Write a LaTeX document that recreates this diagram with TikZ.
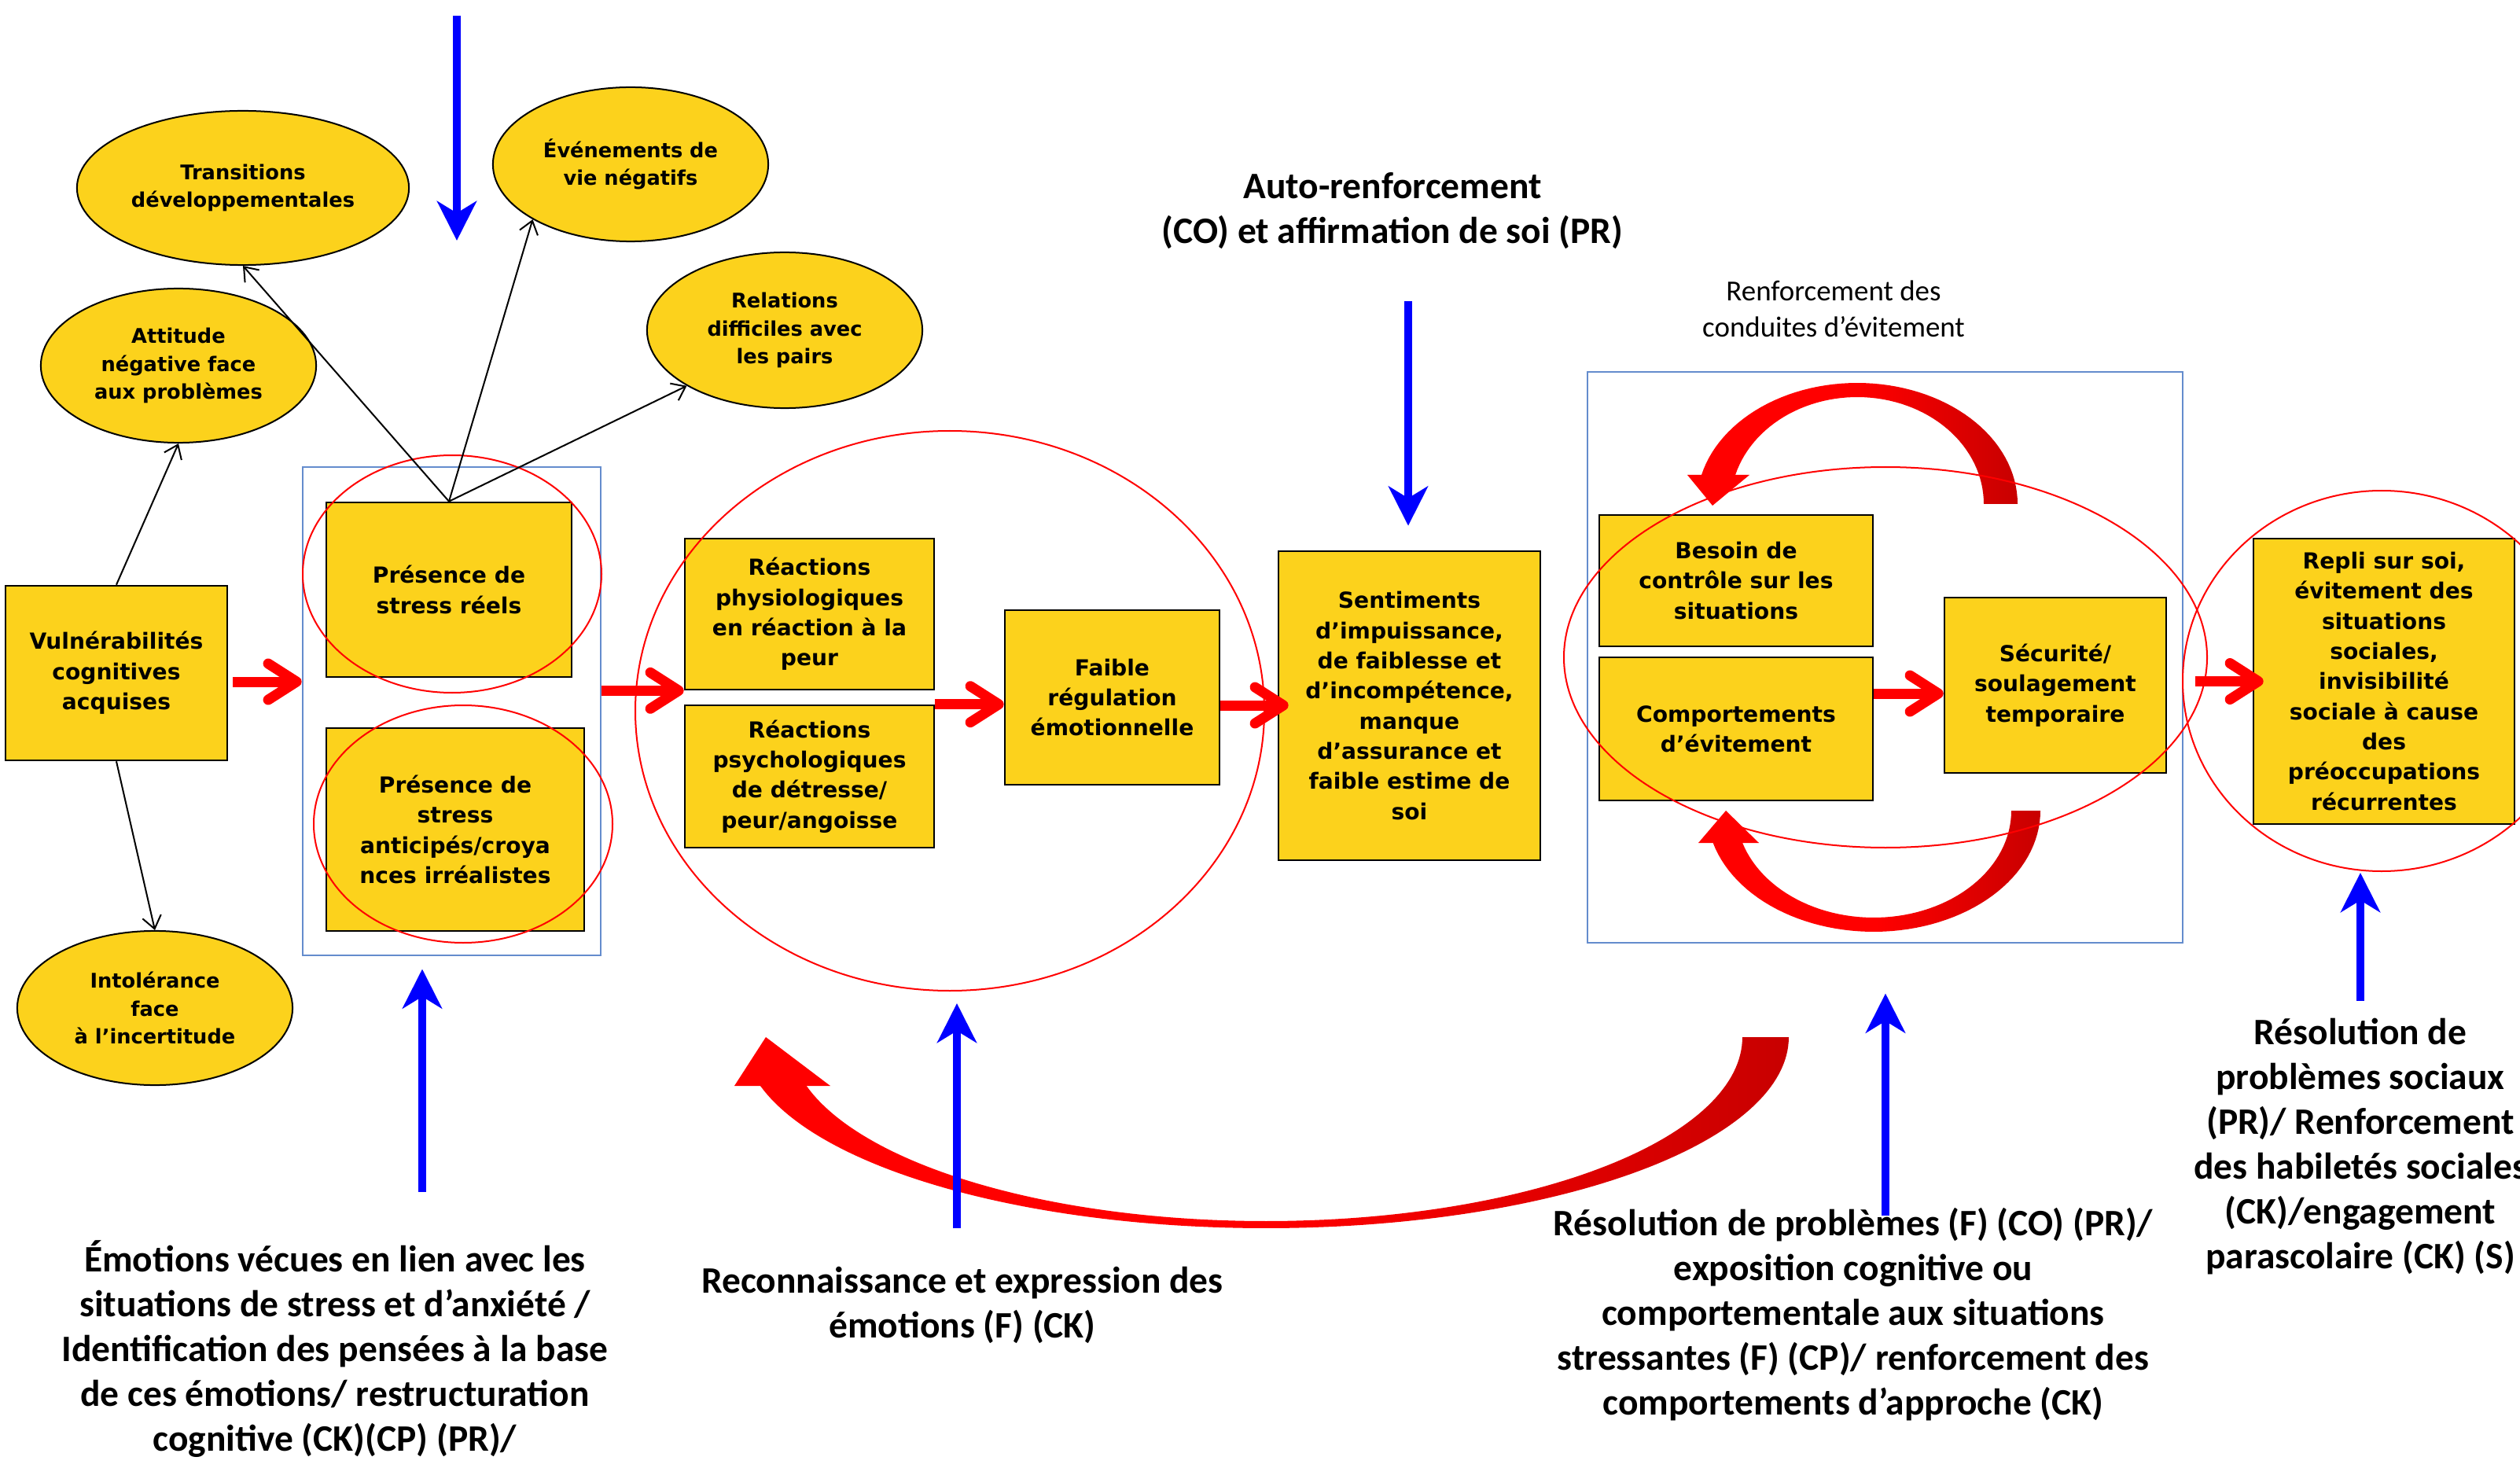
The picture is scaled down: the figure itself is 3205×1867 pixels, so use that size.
\documentclass[tikz,border=0pt]{standalone}
\usepackage{fontspec}
\setmainfont{Carlito}
\newfontfamily\vfont{DejaVu Sans}
\usetikzlibrary{arrows.meta,shapes.geometric}
\definecolor{boxyellow}{RGB}{252,210,28}
\definecolor{grpblue}{RGB}{100,140,205}
\definecolor{arcdark}{RGB}{200,0,0}
\definecolor{arrowblue}{RGB}{0,0,255}
\begin{document}
\begin{tikzpicture}[x=0.01cm,y=-0.01cm,
  box/.style={draw=black, line width=0.025cm, fill=boxyellow, align=center, inner sep=0pt,
    font=\vfont\bfseries\fontsize{8}{10.9}\selectfont},
  oval/.style={ellipse, draw=black, line width=0.02cm, fill=boxyellow, align=center, inner sep=0pt,
    font=\vfont\bfseries\fontsize{7.3}{10.1}\selectfont},
  grp/.style={draw=grpblue, line width=0.025cm, inner sep=0pt},
  halo/.style={draw=red, line width=0.02cm},
  lbl/.style={align=center, font=\bfseries\fontsize{13.5}{16.2}\selectfont},
  note/.style={align=center, font=\fontsize{10.5}{12.9}\selectfont},
  redarr/.style={draw=red, line width=0.13cm, -{Straight Barb[length=0.36cm, width=0.46cm, round]}},
  bluearr/.style={draw=arrowblue, line width=0.1cm, -{Stealth[length=0.5cm, width=0.5cm, inset=0.15cm]}},
  thinarr/.style={draw=black, line width=0.02cm, -{Straight Barb[length=0.16cm, width=0.24cm]}},
  arcfill/.style={left color=red, right color=arcdark, middle color=red}
]
\useasboundingbox (0,0) rectangle (3205,1867);
\clip (0,0) rectangle (3205,1867);

% group frames
\node[grp, minimum width=3.79cm, minimum height=6.21cm] (g1) at (574.5,904.5) {};
\node[grp, minimum width=7.57cm, minimum height=7.26cm] (g2) at (2397.5,836) {};

% factor ovals
\node[oval, minimum width=4.22cm, minimum height=1.96cm] (trans) at (309,239) {Transitions\\développementales};
\node[oval, minimum width=3.50cm, minimum height=1.96cm] (even) at (802,209) {Événements de\\vie négatifs};
\node[oval, minimum width=3.50cm, minimum height=1.96cm] (att) at (227,465) {Attitude\\négative face\\aux problèmes};
\node[oval, minimum width=3.50cm, minimum height=1.98cm] (rel) at (998,420) {Relations\\difficiles avec\\les pairs};
\node[oval, minimum width=3.50cm, minimum height=1.96cm] (into) at (197,1282) {Intolérance\\face\\à l’incertitude};

% process boxes
\node[box, minimum width=2.82cm, minimum height=2.22cm] (vul) at (148,856) {Vulnérabilités\\cognitives\\acquises};
\node[box, minimum width=3.12cm, minimum height=2.22cm] (pr) at (571,750) {Présence de\\stress réels};
\node[box, minimum width=3.28cm, minimum height=2.58cm] (pa) at (579,1055) {Présence de\\stress\\anticipés/croya\\nces irréalistes};
\node[box, minimum width=3.17cm, minimum height=1.92cm] (rphys) at (1029.5,781) {Réactions\\physiologiques\\en réaction à la\\peur};
\node[box, minimum width=3.17cm, minimum height=1.81cm] (rpsy) at (1029.5,987.5) {Réactions\\psychologiques\\de détresse/\\peur/angoisse};
\node[box, minimum width=2.73cm, minimum height=2.22cm] (faible) at (1414.5,887) {Faible\\régulation\\émotionnelle};
\node[box, minimum width=3.33cm, minimum height=3.93cm] (sent) at (1792.5,897.5) {Sentiments\\d’impuissance,\\de faiblesse et\\d’incompétence,\\manque\\d’assurance et\\faible estime de\\soi};
\node[box, minimum width=3.48cm, minimum height=1.67cm] (besoin) at (2208,738.5) {Besoin de\\contrôle sur les\\situations};
\node[box, minimum width=3.48cm, minimum height=1.82cm] (comp) at (2208,927) {Comportements\\d’évitement};
\node[box, minimum width=2.82cm, minimum height=2.23cm] (secu) at (2614,871.5) {Sécurité/\\soulagement\\temporaire};
\node[box, minimum width=3.32cm, minimum height=3.63cm] (repli) at (3032,866.5) {Repli sur soi,\\évitement des\\situations\\sociales,\\invisibilité\\sociale à cause\\des\\préoccupations\\récurrentes};

% avoidance loop inside the right frame
\shade[arcfill] plot[domain=0:-166.1, samples=60] ({2362+204*cos(\x)}, {641+154*sin(\x)})
  -- plot[domain=-164.2:0, samples=60] ({2362+161*cos(\x)}, {641+136*sin(\x)}) -- cycle;
\fill[red] (2146,604) -- (2178,643) -- (2225,604) -- cycle;
\shade[arcfill] plot[domain=0:164.6, samples=60] ({2383+212*cos(\x)}, {1031+154*sin(\x)})
  -- plot[domain=162.5:0, samples=60] ({2383+175*cos(\x)}, {1031+136*sin(\x)}) -- cycle;
\fill[red] (2160,1072) -- (2195,1031) -- (2237,1072) -- cycle;

% long feedback arc back to the reactions
\shade[arcfill] plot[domain=0:165.2, samples=120] ({1610+665*cos(\x)}, {1319+243*sin(\x)})
  -- plot[domain=164.7:0, samples=120] ({1610+606*cos(\x)}, {1319+234*sin(\x)}) -- cycle;
\fill[red] (934,1381) -- (974,1319) -- (1056,1381) -- cycle;

% red rings
\draw[halo] (575,730) ellipse [x radius=190, y radius=151];
\draw[halo] (589,1048) ellipse [x radius=190, y radius=151];
\draw[halo] (1208,904) ellipse [x radius=400, y radius=356];
\draw[halo] (2398,836) ellipse [x radius=409, y radius=242];
\draw[halo] (3029,866) ellipse [x radius=253, y radius=242];

% links from vulnerabilities and stressors
\draw[thinarr] (vul.north) -- (att.south);
\draw[thinarr] (vul.south) -- (into.north);
\draw[thinarr] (pr.north) -- (trans.south);
\draw[thinarr] (pr.north) -- (even.south west);
\draw[thinarr] (pr.north) -- (rel.south west);

% main chain
\draw[redarr, shorten <=0.06cm] ([yshift=-0.11cm]vul.east) -- ([yshift=-0.11cm]vul.east -| g1.west);
\draw[redarr] (g1.east |- rphys.south) -- (rphys.south west);
\draw[redarr] (rpsy.north east) -- (rpsy.north east -| faible.west);
\draw[redarr, shorten >=-0.14cm] ([yshift=-0.1cm]faible.east) -- ([yshift=-0.1cm]faible.east -| sent.west);
\draw[redarr] ([yshift=-0.105cm]secu.west -| comp.east) -- ([yshift=-0.105cm]secu.west);
\draw[redarr, shorten <=0.14cm, shorten >=-0.14cm] (g2.east |- repli.west) -- (repli.west);

% labels
\node[lbl] (auto) at (1771,268) {Auto-renforcement\\(CO) et affirmation de soi (PR)};
\node[note] (renf) at (2332,393) {Renforcement des\\conduites d’évitement};
\node[lbl] (emo) at (426,1716) {Émotions vécues en lien avec les\\situations de stress et d’anxiété /\\Identification des pensées à la base\\de ces émotions/ restructuration\\cognitive (CK)(CP) (PR)/};
\node[lbl] (reco) at (1224,1660) {Reconnaissance et expression des\\émotions (F) (CK)};
\node[lbl] (reso) at (2357,1672) {Résolution de problèmes (F) (CO) (PR)/\\exposition cognitive ou\\comportementale aux situations\\stressantes (F) (CP)/ renforcement des\\comportements d’approche (CK)};
\node[lbl] (resosoc) at (3002,1458) {Résolution de\\problèmes sociaux\\(PR)/ Renforcement\\des habiletés sociales\\(CK)/engagement\\parascolaire (CK) (S)};

% intervention arrows
\coordinate (b1s) at (581,20);
\coordinate (b1e) at (581,306);
\coordinate (b2s) at (1791,383);
\coordinate (b3s) at (537,1516);
\coordinate (b4s) at (1217,1562);
\coordinate (b4e) at (1217,1276);
\coordinate (b5s) at (2398,1546);
\coordinate (b6s) at (3002,1273);
\coordinate (b6e) at (3002,1110);
\draw[bluearr] (b1s) -- (b1e);
\draw[bluearr, shorten >=0.31cm] (b2s) -- (b2s |- sent.north);
\draw[bluearr, shorten >=0.16cm] (b3s) -- (b3s |- g1.south);
\draw[bluearr] (b4s) -- (b4e);
\draw[bluearr, shorten >=0.63cm] (b5s) -- (b5s |- g2.south);
\draw[bluearr] (b6s) -- (b6e);
\end{tikzpicture}
\end{document}
